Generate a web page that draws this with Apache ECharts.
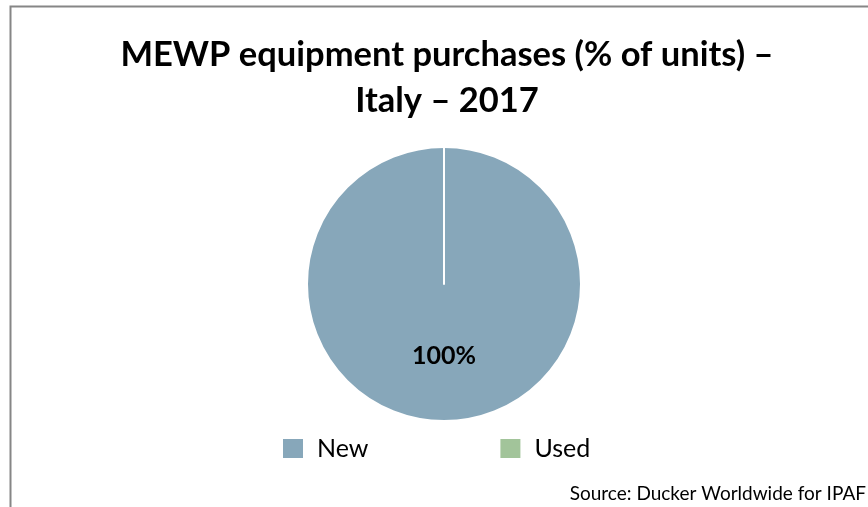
<!DOCTYPE html>
<html><head><meta charset="utf-8">
<script src="https://cdn.jsdelivr.net/npm/echarts@6/dist/echarts.min.js"></script>
<style>html,body{margin:0;padding:0;background:#fff}#c{width:868px;height:507px}</style>
</head><body><div id="c"></div>
<script>
const titleLines = ['MEWP equipment purchases (% of units) –', 'Italy – 2017'];
const categories = ['New', 'Used'];
const values = [100, 0];
const labels = ['100%', ''];
const colors = ['#87A7BA', '#A2C49A'];
const sourceText = 'Source: Ducker Worldwide for IPAF';

const chart = echarts.init(document.getElementById('c'), null, {renderer: 'canvas'});
const FONT = 'Lato, "Open Sans", sans-serif';
chart.setOption({
  animation: false,
  title: {
    text: titleLines.join('\n'),
    left: 442, top: 27, textAlign: 'center',
    textStyle: {fontFamily: FONT, fontWeight: 'bold', fontSize: 34.5, color: '#000', lineHeight: 46}
  },
  legend: {
    left: 276, top: 431,
    itemWidth: 22, itemHeight: 21, itemGap: 130,
    icon: 'rect',
    textStyle: {fontFamily: FONT, fontSize: 25, color: '#000', padding: [0, 0, 0, 8]},
    data: categories
  },
  graphic: [
    {type: 'rect', shape: {x: 10.5, y: 6.5, width: 1000, height: 1000}, style: {fill: 'none', stroke: '#868686', lineWidth: 2}, silent: true, z: -1},
    {type: 'text', right: 2, top: 484, style: {text: sourceText, font: '19px ' + FONT, fill: '#000'}}
  ],
  series: [{
    type: 'pie',
    center: [444, 284], radius: 137,
    startAngle: 90, clockwise: true,
    stillShowZeroSum: true, minShowLabelAngle: 0,
    itemStyle: {borderColor: '#fff', borderWidth: 2},
    label: {
      position: 'inside',
      formatter: p => labels[p.dataIndex],
      fontFamily: FONT, fontWeight: 'bold', fontSize: 25, color: '#000'
    },
    labelLine: {show: false},
    emphasis: {disabled: true},
    data: categories.map((c, i) => ({name: c, value: values[i], itemStyle: {color: colors[i]}}))
  }]
});
</script></body></html>
